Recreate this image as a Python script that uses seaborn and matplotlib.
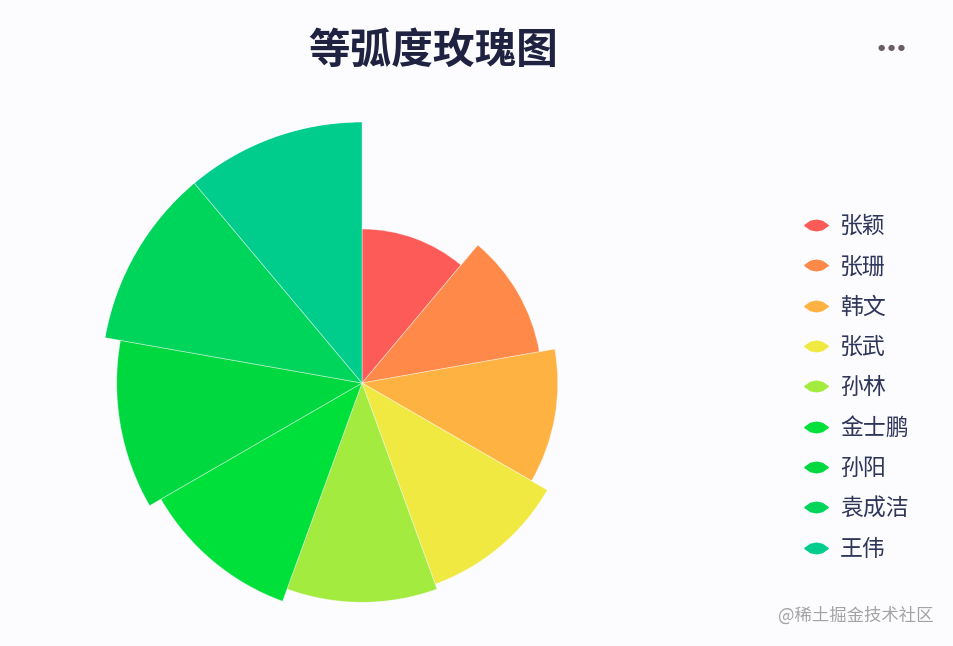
import numpy as np
import matplotlib
matplotlib.use("Agg")
import matplotlib.pyplot as plt
from matplotlib.lines import Line2D
import seaborn as sns

# Data (radius of each petal, max = 100)
names = ['张颖', '张珊', '韩文', '张武', '孙林', '金士鹏', '孙阳', '袁成洁', '王伟']
values = [59, 69, 75, 82, 84, 89, 94, 100, 100]
colors = ['#fd5b58', '#fe8948', '#feb242', '#f0e941', '#a3eb3f',
          '#00e03a', '#00d83f', '#00d55b', '#00cd8b']

TITLE = '等弧度玫瑰图'
WATERMARK = '@稀土掘金技术社区'
BG = '#fcfcfe'
TEXT_COLOR = '#30365a'


def draw_rose(out_path):
    sns.set_theme(style='white')
    plt.rcParams['font.family'] = ['Noto Sans CJK SC', 'DejaVu Sans']

    fig = plt.figure(figsize=(9.54, 6.46), dpi=100, facecolor=BG)
    # Square polar box centred on (362, 383) px with radius 261 px.
    ax = fig.add_axes([0.1059, 0.0031, 0.5472, 0.808], projection='polar')
    ax.set_facecolor(BG)
    ax.set_theta_zero_location('N')
    ax.set_theta_direction(-1)

    n = len(values)
    width = 2 * np.pi / n
    theta = np.arange(n) * width + width / 2
    palette = sns.color_palette(colors)
    ax.bar(theta, values, width=width, bottom=0, color=palette,
           edgecolor=(1, 1, 1, 0.45), linewidth=0.6)

    ax.set_ylim(0, max(values))
    ax.set_xticks([])
    ax.set_yticks([])
    ax.grid(False)
    ax.spines['polar'].set_visible(False)

    fig.text(0.454, 0.922, TITLE, ha='center', va='center', fontsize=30,
             fontweight='bold', color='#1f2240')
    fig.text(0.935, 0.926, '● ● ●', ha='center', va='center', fontsize=6,
             color='#6b5e62', family=['DejaVu Sans'])

    lens = [(-1, 0), (-0.5, 0.35), (0, 0.45), (0.5, 0.35), (1, 0),
            (0.5, -0.35), (0, -0.45), (-0.5, -0.35), (-1, 0)]
    handles = [Line2D([], [], linestyle='none', marker=lens, markersize=17,
                      markerfacecolor=c, markeredgecolor=c)
               for c in colors]
    leg = fig.legend(handles, names, loc='upper left',
                     bbox_to_anchor=(0.8386, 0.667), frameon=False,
                     fontsize=16.5, labelspacing=0.755, handlelength=1.4,
                     handletextpad=0.35, borderaxespad=0, borderpad=0)
    for t in leg.get_texts():
        t.set_color(TEXT_COLOR)

    fig.text(0.978, 0.047, WATERMARK, ha='right', va='center', fontsize=12.5,
             color='#a3a3a6')

    fig.savefig(out_path, dpi=100, facecolor=BG)
    plt.close(fig)


if __name__ == '__main__':
    draw_rose('out.png')
